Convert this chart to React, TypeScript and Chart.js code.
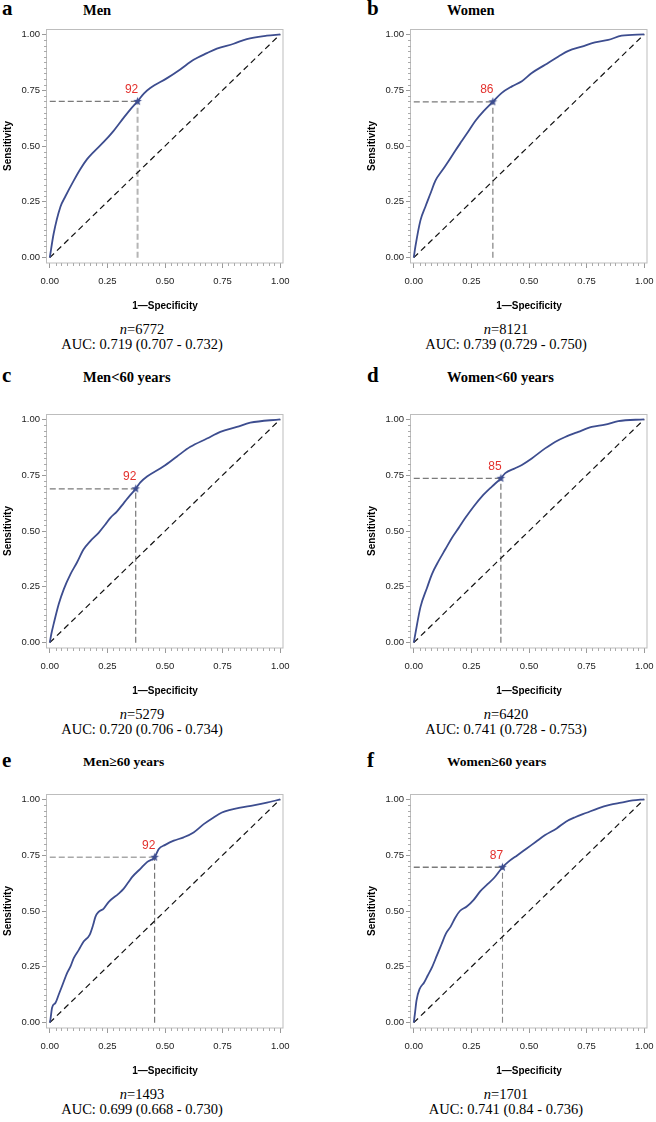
import React, { useEffect, useRef } from 'react';
import { Chart, registerables } from 'chart.js';

Chart.register(...registerables);

// ---------- data ----------
const majorTicks = [0, 0.25, 0.5, 0.75, 1];
const tickLabels = ['0.00', '0.25', '0.50', '0.75', '1.00'];
const minorStep = 0.025;

const panelLetters = ['a', 'b', 'c', 'd', 'e', 'f'];
const panelTitles = ['Men', 'Women', 'Men<60 years', 'Women<60 years', 'Men≥60 years', 'Women≥60 years'];
const sampleSizes = ['6772', '8121', '5279', '6420', '1493', '1701'];
const aucTexts = [
  'AUC: 0.719 (0.707 - 0.732)',
  'AUC: 0.739 (0.729 - 0.750)',
  'AUC: 0.720 (0.706 - 0.734)',
  'AUC: 0.741 (0.728 - 0.753)',
  'AUC: 0.699 (0.668 - 0.730)',
  'AUC: 0.741 (0.84 - 0.736)',
];
const cutoffLabels = ['92', '86', '92', '85', '92', '87'];
const cutoffFpr = [0.381, 0.343, 0.373, 0.378, 0.455, 0.385];
const cutoffTpr = [0.70, 0.698, 0.689, 0.736, 0.741, 0.696];

const menFpr = [0, 0.017, 0.046, 0.068, 0.104, 0.133, 0.162, 0.191, 0.234, 0.277, 0.321, 0.35, 0.381, 0.408, 0.436, 0.509, 0.566, 0.624, 0.682, 0.725, 0.798, 0.855, 0.942, 1];
const menTpr = [0, 0.108, 0.227, 0.275, 0.345, 0.397, 0.441, 0.474, 0.518, 0.568, 0.627, 0.664, 0.70, 0.735, 0.76, 0.804, 0.843, 0.886, 0.916, 0.936, 0.958, 0.979, 0.994, 1];

const womenFpr = [0, 0.007, 0.029, 0.05, 0.072, 0.094, 0.123, 0.152, 0.18, 0.209, 0.238, 0.267, 0.303, 0.343, 0.382, 0.426, 0.469, 0.512, 0.57, 0.628, 0.671, 0.729, 0.786, 0.844, 0.902, 1];
const womenTpr = [0, 0.049, 0.167, 0.227, 0.286, 0.345, 0.39, 0.434, 0.479, 0.523, 0.567, 0.612, 0.656, 0.698, 0.738, 0.767, 0.79, 0.827, 0.864, 0.901, 0.926, 0.945, 0.964, 0.975, 0.994, 1];

const menYoungFpr = [0, 0.007, 0.017, 0.039, 0.061, 0.09, 0.118, 0.147, 0.176, 0.212, 0.241, 0.263, 0.292, 0.321, 0.35, 0.373, 0.393, 0.422, 0.494, 0.552, 0.61, 0.682, 0.74, 0.812, 0.87, 1];
const menYoungTpr = [0, 0.04, 0.084, 0.173, 0.24, 0.307, 0.359, 0.418, 0.455, 0.492, 0.529, 0.559, 0.588, 0.625, 0.662, 0.689, 0.718, 0.744, 0.79, 0.834, 0.877, 0.914, 0.944, 0.966, 0.985, 1];

const womenYoungFpr = [0, 0.007, 0.029, 0.058, 0.079, 0.108, 0.137, 0.166, 0.195, 0.224, 0.26, 0.296, 0.339, 0.378, 0.397, 0.44, 0.469, 0.512, 0.57, 0.613, 0.657, 0.714, 0.772, 0.83, 0.887, 1];
const womenYoungTpr = [0, 0.04, 0.159, 0.247, 0.307, 0.366, 0.418, 0.47, 0.514, 0.559, 0.61, 0.655, 0.699, 0.736, 0.759, 0.781, 0.796, 0.825, 0.87, 0.899, 0.921, 0.944, 0.966, 0.976, 0.992, 1];

const menOldFpr = [0, 0.003, 0.01, 0.025, 0.039, 0.053, 0.075, 0.09, 0.104, 0.126, 0.147, 0.173, 0.188, 0.198, 0.212, 0.234, 0.256, 0.299, 0.321, 0.342, 0.357, 0.393, 0.422, 0.455, 0.473, 0.501, 0.538, 0.581, 0.624, 0.668, 0.711, 0.747, 0.783, 0.827, 0.884, 0.942, 1];
const menOldTpr = [0, 0.015, 0.067, 0.089, 0.126, 0.163, 0.222, 0.252, 0.289, 0.326, 0.363, 0.393, 0.437, 0.474, 0.496, 0.511, 0.541, 0.578, 0.6, 0.63, 0.652, 0.689, 0.719, 0.741, 0.778, 0.796, 0.815, 0.83, 0.852, 0.889, 0.919, 0.941, 0.953, 0.963, 0.973, 0.985, 1];

const womenOldFpr = [0, 0.005, 0.012, 0.025, 0.045, 0.06, 0.08, 0.1, 0.12, 0.14, 0.16, 0.18, 0.2, 0.23, 0.26, 0.29, 0.32, 0.35, 0.385, 0.41, 0.45, 0.49, 0.53, 0.57, 0.62, 0.66, 0.7, 0.75, 0.8, 0.85, 0.9, 0.95, 1];
const womenOldTpr = [0, 0.04, 0.1, 0.15, 0.18, 0.21, 0.25, 0.3, 0.35, 0.4, 0.43, 0.47, 0.5, 0.52, 0.55, 0.59, 0.62, 0.65, 0.696, 0.72, 0.75, 0.78, 0.81, 0.84, 0.87, 0.9, 0.92, 0.94, 0.96, 0.975, 0.985, 0.995, 1];

const curveFpr = [menFpr, womenFpr, menYoungFpr, womenYoungFpr, menOldFpr, womenOldFpr];
const curveTpr = [menTpr, womenTpr, menYoungTpr, womenYoungTpr, menOldTpr, womenOldTpr];

// ---------- layout / style ----------
const SANS = '"Liberation Sans", Arial, sans-serif';
const SERIF = '"Liberation Serif", "Times New Roman", serif';
const CURVE_COLOR = '#3d4d8f';
const CANVAS_W = 292;
const CANVAS_H = 291;
const PAD_TOP = 4;
const colLeft = [0, 364];
const frameTop = [27, 412, 792];
const letterLeft = [2, 367];
const titleLeft = [83, 447];
const captionCenter = [142, 506];
const letterCenterY = [8, 375, 759.5];
const titleCenterY = [9.5, 377, 762];
const titleSize = [14.5, 14.5, 13.5];
const refStyles = [
  { h: '#7a7a7a', hw: 1.3, v: '#b5b5b5', vw: 2 },
  { h: '#7a7a7a', hw: 1.3, v: '#a0a0a0', vw: 1.6 },
  { h: '#7a7a7a', hw: 1.3, v: '#6a6a6a', vw: 1.1 },
  { h: '#7a7a7a', hw: 1.3, v: '#6a6a6a', vw: 1.1 },
  { h: '#a8a8a8', hw: 1.6, v: '#6a6a6a', vw: 1.1 },
  { h: '#7a7a7a', hw: 1.3, v: '#8a8a8a', vw: 1.1 },
];

function makeStar(): HTMLCanvasElement {
  const c = document.createElement('canvas');
  c.width = 11;
  c.height = 11;
  const g = c.getContext('2d')!;
  g.fillStyle = CURVE_COLOR;
  g.beginPath();
  for (let i = 0; i < 10; i++) {
    const r = i % 2 === 0 ? 4.6 : 1.9;
    const a = -Math.PI / 2 + (i * Math.PI) / 5;
    const x = 5.5 + r * Math.cos(a);
    const y = 5.5 + r * Math.sin(a);
    if (i === 0) g.moveTo(x, y);
    else g.lineTo(x, y);
  }
  g.closePath();
  g.fill();
  return c;
}

function buildConfig(idx: number): any {
  const fpr = curveFpr[idx];
  const tpr = curveTpr[idx];
  const cx = cutoffFpr[idx];
  const cy = cutoffTpr[idx];
  const st = refStyles[idx];
  const tickFont = { family: SANS, size: 9.5 };
  const titleFont = { family: SANS, size: 10, weight: 'bold' as const };

  const framePlugin = {
    id: 'frameAndMinor',
    beforeDatasetsDraw(chart: any) {
      const { ctx, chartArea: a, scales } = chart;
      ctx.save();
      ctx.strokeStyle = '#bdbdbd';
      ctx.lineWidth = 1;
      ctx.strokeRect(a.left - 0.5, a.top + 0.5, a.right - a.left + 0.5, a.bottom - a.top - 0.5);
      ctx.strokeStyle = '#aaaaaa';
      ctx.beginPath();
      const n = Math.round(1 / minorStep);
      for (let i = 0; i <= n; i++) {
        if (i % 10 === 0) continue;
        const v = i * minorStep;
        const px = Math.round(scales.x.getPixelForValue(v)) + 0.5;
        ctx.moveTo(px, a.bottom);
        ctx.lineTo(px, a.bottom + 3);
        const py = Math.round(scales.y.getPixelForValue(v)) + 0.5;
        ctx.moveTo(a.left, py);
        ctx.lineTo(a.left - 3, py);
      }
      ctx.stroke();
      ctx.restore();
    },
  };

  const labelPlugin = {
    id: 'cutLabel',
    afterDatasetsDraw(chart: any) {
      const meta = chart.getDatasetMeta(0);
      const pt = meta.data[0];
      if (!pt) return;
      const ctx = chart.ctx;
      ctx.save();
      ctx.fillStyle = '#e3312d';
      ctx.font = `12px ${SANS}`;
      ctx.textAlign = 'center';
      ctx.textBaseline = 'middle';
      ctx.fillText(cutoffLabels[idx], pt.x - 6, pt.y - 12);
      ctx.restore();
    },
  };

  return {
    type: 'scatter',
    data: {
      datasets: [
        {
          data: [{ x: cx, y: cy }],
          pointStyle: makeStar(),
          pointRadius: 5,
          showLine: false,
        },
        {
          data: fpr.map((x, i) => ({ x, y: tpr[i] })),
          showLine: true,
          borderColor: CURVE_COLOR,
          borderWidth: 1.8,
          pointRadius: 0,
          cubicInterpolationMode: 'monotone',
        },
        {
          data: [{ x: 0, y: 0 }, { x: 1, y: 1 }],
          showLine: true,
          borderColor: '#111',
          borderWidth: 1.2,
          borderDash: [6, 4],
          pointRadius: 0,
        },
        {
          data: [{ x: 0, y: cy }, { x: cx, y: cy }],
          showLine: true,
          borderColor: st.h,
          borderWidth: st.hw,
          borderDash: [6, 3],
          pointRadius: 0,
        },
        {
          data: [{ x: cx, y: 0 }, { x: cx, y: cy }],
          showLine: true,
          borderColor: st.v,
          borderWidth: st.vw,
          borderDash: [6, 3],
          pointRadius: 0,
        },
      ],
    },
    options: {
      responsive: false,
      animation: false,
      devicePixelRatio: 1,
      events: [],
      layout: { padding: { left: 0, right: 9, top: PAD_TOP, bottom: 0 } },
      plugins: { legend: { display: false }, tooltip: { enabled: false }, title: { display: false } },
      scales: {
        x: {
          type: 'linear',
          min: -0.012,
          max: 1.012,
          afterBuildTicks: (s: any) => {
            s.ticks = majorTicks.map((v) => ({ value: v }));
          },
          afterFit: (s: any) => {
            s.height = 51;
            s.paddingLeft = 0;
            s.paddingRight = 0;
          },
          ticks: {
            callback: (_v: any, i: number) => tickLabels[i],
            font: tickFont,
            color: '#222',
            padding: 8,
            maxRotation: 0,
            autoSkip: false,
          },
          grid: { drawOnChartArea: false, drawTicks: true, tickLength: 5, color: '#9a9a9a' },
          border: { display: false },
          title: { display: true, text: '1—Specificity', font: titleFont, color: '#000', padding: { top: 0, bottom: 2 } },
        },
        y: {
          type: 'linear',
          min: -0.024,
          max: 1.024,
          afterBuildTicks: (s: any) => {
            s.ticks = majorTicks.map((v) => ({ value: v }));
          },
          afterFit: (s: any) => {
            s.width = 47;
            s.paddingTop = 0;
            s.paddingBottom = 0;
          },
          ticks: {
            callback: (_v: any, i: number) => tickLabels[i],
            font: tickFont,
            color: '#222',
            padding: 2,
            autoSkip: false,
          },
          grid: { drawOnChartArea: false, drawTicks: true, tickLength: 5, color: '#9a9a9a' },
          border: { display: false },
          title: { display: true, text: 'Sensitivity', font: titleFont, color: '#000', padding: { top: 2, bottom: 0 } },
        },
      },
    },
    plugins: [framePlugin, labelPlugin],
  };
}

function RocPanel({ idx }: { idx: number }) {
  const ref = useRef<HTMLCanvasElement>(null);
  useEffect(() => {
    if (!ref.current) return;
    const chart = new Chart(ref.current, buildConfig(idx));
    return () => chart.destroy();
  }, [idx]);
  const row = Math.floor(idx / 2);
  const col = idx % 2;
  const top = frameTop[row] - PAD_TOP;
  const nCenter = frameTop[row] + 302;
  const aucCenter = frameTop[row] + 316.5;
  const lh = 16;
  return (
    <>
      <div
        style={{
          position: 'absolute', left: letterLeft[col], top: letterCenterY[row] - 12, height: 24, lineHeight: '24px',
          fontFamily: SERIF, fontWeight: 'bold', fontSize: 21, color: '#000',
        }}
      >
        {panelLetters[idx]}
      </div>
      <div
        style={{
          position: 'absolute', left: titleLeft[col], top: titleCenterY[row] - 9, height: 18, lineHeight: '18px',
          fontFamily: SERIF, fontWeight: 'bold', fontSize: titleSize[row], color: '#000', whiteSpace: 'nowrap',
        }}
      >
        {panelTitles[idx]}
      </div>
      <canvas
        ref={ref}
        width={CANVAS_W}
        height={CANVAS_H}
        style={{ position: 'absolute', left: colLeft[col], top, width: CANVAS_W, height: CANVAS_H }}
      />
      <div
        style={{
          position: 'absolute', left: captionCenter[col] - 150, width: 300, textAlign: 'center', top: nCenter - lh / 2,
          height: lh, lineHeight: `${lh}px`, fontFamily: SERIF, fontSize: 14.5, color: '#000', whiteSpace: 'nowrap',
        }}
      >
        <i>n</i>={sampleSizes[idx]}
      </div>
      <div
        style={{
          position: 'absolute', left: captionCenter[col] - 150, width: 300, textAlign: 'center', top: aucCenter - lh / 2,
          height: lh, lineHeight: `${lh}px`, fontFamily: SERIF, fontSize: 14.5, color: '#000', whiteSpace: 'nowrap',
        }}
      >
        {aucTexts[idx]}
      </div>
    </>
  );
}

export default function App() {
  return (
    <div
      style={{
        position: 'absolute', left: 0, top: 0, width: 656, height: 1122, background: '#fff', overflow: 'hidden',
      }}
    >
      {panelLetters.map((_, i) => (
        <RocPanel key={i} idx={i} />
      ))}
    </div>
  );
}
